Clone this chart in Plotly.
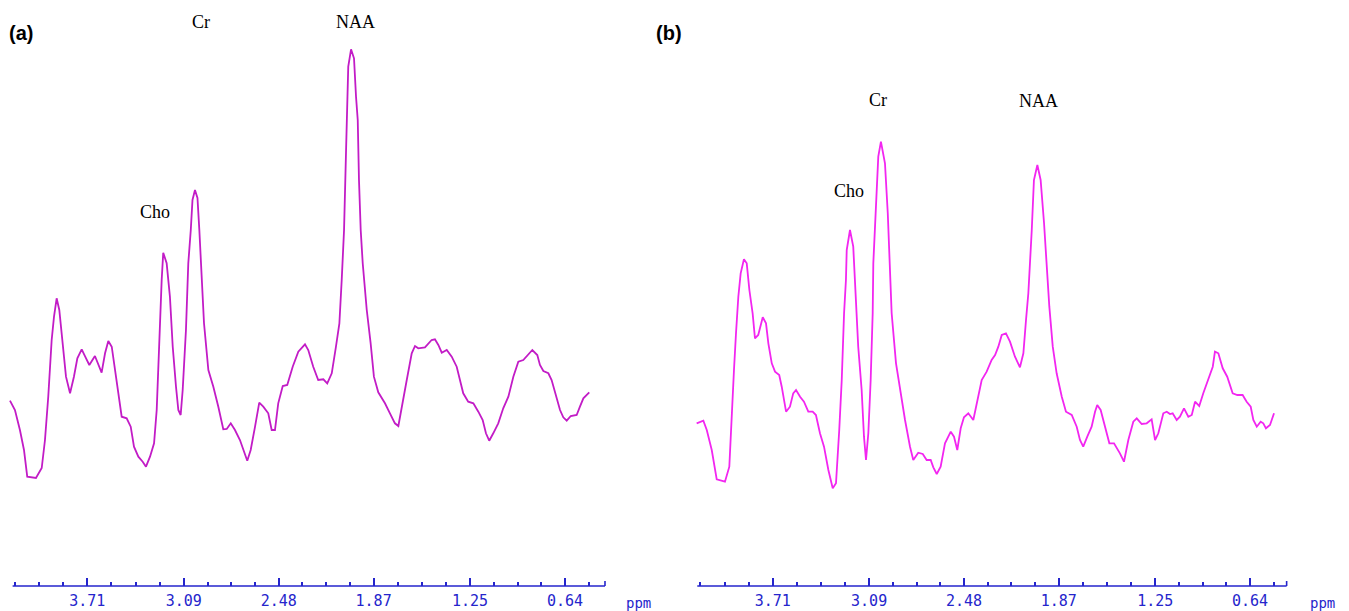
import plotly.graph_objects as go

W, H = 1349, 611

# ---------------- data (ppm, intensity in arbitrary units) ----------------
ppm_a = [4.207, 4.175, 4.143, 4.117, 4.096, 4.067, 4.040, 4.003, 3.982, 3.961,
         3.939, 3.924, 3.907, 3.890, 3.868, 3.847, 3.821, 3.796, 3.774, 3.746,
         3.718, 3.697, 3.661, 3.639, 3.618, 3.596, 3.575, 3.553, 3.532, 3.504,
         3.489, 3.457, 3.431, 3.410, 3.382, 3.354, 3.333, 3.307, 3.281, 3.264,
         3.247, 3.232, 3.222, 3.200, 3.179, 3.161, 3.140, 3.125, 3.110, 3.097,
         3.076, 3.061, 3.045, 3.034, 3.018, 3.002, 2.990, 2.975, 2.960, 2.932,
         2.900, 2.868, 2.836, 2.814, 2.788, 2.761, 2.729, 2.682, 2.660, 2.632,
         2.605, 2.579, 2.547, 2.525, 2.504, 2.483, 2.454, 2.425, 2.390, 2.354,
         2.311, 2.290, 2.258, 2.226, 2.193, 2.168, 2.139, 2.112, 2.090, 2.075,
         2.060, 2.047, 2.036, 2.033, 2.015, 1.996, 1.983, 1.972, 1.964, 1.953,
         1.940, 1.914, 1.889, 1.868, 1.840, 1.797, 1.765, 1.733, 1.711, 1.690,
         1.657, 1.625, 1.604, 1.583, 1.540, 1.497, 1.476, 1.454, 1.432, 1.400,
         1.368, 1.336, 1.319, 1.294, 1.262, 1.229, 1.197, 1.169, 1.148, 1.127,
         1.101, 1.069, 1.037, 1.004, 0.972, 0.940, 0.908, 0.876, 0.850, 0.818,
         0.801, 0.779, 0.747, 0.726, 0.698, 0.672, 0.651, 0.629, 0.603, 0.565,
         0.544, 0.522, 0.484]
int_a = [185.3, 176, 156, 136, 109.3, 109, 108, 118, 146, 189.3,
         246, 269.3, 287.7, 276, 239.3, 209.3, 192.7, 209.3, 227.7, 236.7,
         227.7, 221, 230, 221, 213.3, 232.7, 245, 239.3, 216, 186,
         169.3, 167.7, 159.3, 139.3, 129.3, 124.3, 119.3, 129.3, 142.7, 176,
         256, 306, 333.3, 322.7, 289.3, 239.3, 199.3, 176, 171, 196,
         256, 322.7, 356, 386, 396, 388, 356, 312.7, 262.7, 216,
         199.3, 179.3, 156.7, 157, 162.7, 156, 146, 125.3, 136, 159.3,
         183.3, 179.3, 172.7, 156, 156, 182.7, 200, 201, 219.3, 234.3,
         241.7, 236, 219.3, 206, 206.7, 202.7, 212.7, 239.3, 262.7, 306,
         356, 436, 489.3, 519.3, 536.7, 527.7, 489.3, 466, 406, 356,
         322.7, 276, 242.7, 209.3, 193.7, 182.7, 172.7, 162.7, 160, 179.3,
         206, 232.7, 240, 237.7, 238.7, 246, 246.7, 241, 233.3, 236,
         229.3, 219.3, 209.3, 192.7, 184.3, 182.7, 174.3, 166, 152.7, 145.3,
         152.7, 162.7, 177.7, 189.3, 209.3, 224.3, 226, 231, 236, 231,
         221, 215, 212.7, 206, 191, 176, 168.7, 165.3, 170, 171,
         179.3, 187.7, 193.7]

ppm_b = [4.199, 4.156, 4.134, 4.102, 4.070, 4.038, 4.017, 3.989, 3.974, 3.959,
         3.946, 3.931, 3.916, 3.895, 3.877, 3.860, 3.839, 3.824, 3.803, 3.774,
         3.753, 3.738, 3.716, 3.695, 3.668, 3.652, 3.624, 3.599, 3.578, 3.560,
         3.534, 3.509, 3.481, 3.453, 3.432, 3.406, 3.380, 3.352, 3.324, 3.303,
         3.282, 3.266, 3.251, 3.239, 3.234, 3.213, 3.192, 3.181, 3.160, 3.138,
         3.123, 3.110, 3.095, 3.080, 3.067, 3.063, 3.046, 3.031, 3.014, 2.988,
         2.970, 2.951, 2.945, 2.917, 2.891, 2.859, 2.827, 2.806, 2.774, 2.745,
         2.720, 2.694, 2.677, 2.655, 2.630, 2.602, 2.565, 2.544, 2.523, 2.501,
         2.480, 2.452, 2.420, 2.398, 2.366, 2.334, 2.302, 2.280, 2.259, 2.237,
         2.210, 2.184, 2.152, 2.120, 2.098, 2.081, 2.066, 2.044, 2.030, 2.008,
         1.987, 1.965, 1.944, 1.931, 1.909, 1.884, 1.851, 1.824, 1.787, 1.755,
         1.734, 1.713, 1.687, 1.659, 1.637, 1.623, 1.601, 1.573, 1.545, 1.515,
         1.477, 1.451, 1.423, 1.391, 1.369, 1.337, 1.305, 1.273, 1.251, 1.230,
         1.198, 1.176, 1.155, 1.138, 1.112, 1.091, 1.065, 1.037, 1.015, 0.994,
         0.967, 0.941, 0.909, 0.880, 0.866, 0.844, 0.816, 0.787, 0.752, 0.722,
         0.688, 0.662, 0.636, 0.619, 0.597, 0.572, 0.555, 0.538, 0.512, 0.486]
int_b = [162.7, 165.3, 156, 136, 106.7, 105.3, 104.3, 119.3, 176, 216,
         252.7, 289.3, 312.7, 326.7, 322.7, 296, 272.7, 247.7, 251, 268.7,
         262.7, 242.7, 222.7, 214.3, 211, 199.3, 174.3, 179.3, 192.7, 196,
         189.3, 184.3, 174.3, 174.3, 171, 152.7, 139.3, 116, 97.7, 102.7,
         156, 206, 272.7, 306, 336, 356, 339.3, 299.3, 239.3, 196,
         149.3, 126, 152.7, 206, 272.7, 322.7, 389.3, 429.3, 444.3, 422.7,
         372.7, 306, 272.7, 222.7, 196, 166, 139.3, 126, 133.3, 132,
         126, 126, 118.7, 112, 119.3, 142.7, 154.3, 149.3, 136, 157.7,
         168.7, 172.7, 166, 182.7, 206, 214.3, 226, 231, 239.3, 251,
         252.7, 244.3, 229.3, 218.7, 232.7, 266, 292.7, 356, 406, 421,
         406, 362.7, 306, 279.3, 239.3, 212.7, 189.3, 174.3, 171, 159.3,
         146, 139.3, 149.3, 159.3, 174.3, 181, 176, 159.3, 142.7, 142.7,
         132.7, 124.3, 146, 164.3, 167.7, 162, 162.7, 166.7, 146, 152.7,
         172.7, 174.3, 172, 172.7, 166, 169.3, 177.7, 169.3, 171, 184.3,
         180, 192.7, 206, 219.3, 234.3, 232.7, 217.7, 209.3, 192.7, 191,
         191, 184.3, 179.3, 166, 159.3, 164.3, 162.7, 157.7, 161, 172.7]

tick_vals = [3.71, 3.09, 2.48, 1.87, 1.25, 0.64]
tick_text = ["3.71", "3.09", "2.48", "1.87", "1.25", "0.64"]
peak_names = ["Cho", "Cr", "NAA"]
panel_names = ["(a)", "(b)"]

# ---------------- style ----------------
AXIS_BLUE = "#2525cc"
COL_A = "#c21cc6"
COL_B = "#f226f0"

# minor ticks: quarters between major ticks, plus 3 before and 1 after
step = 0.155
minor = []
for k in (3, 2, 1):
    minor.append(round(tick_vals[0] + k * step, 3))
for i in range(len(tick_vals) - 1):
    a, b = tick_vals[i], tick_vals[i + 1]
    for q in (1, 2, 3):
        minor.append(round(a + (b - a) * q / 4, 4))
minor.append(round(tick_vals[-1] - step, 3))

# axis pixel geometry (x pixel = x0 + (3.71 - ppm) * scale)
AXIS_Y = 586
range_a = [4.2711, 4.2711 - 674.5 / 155.6]
range_b = [3.71 + (772.7 - 674.5) / 155.5, 3.71 - (1349 - 772.7) / 155.5]
line_a = [4.19, 0.383]
line_b = [4.195, 0.405]

fig = go.Figure()
fig.add_trace(go.Scatter(x=ppm_a, y=int_a, mode="lines", xaxis="x", yaxis="y",
                         line=dict(color=COL_A, width=1.8), showlegend=False,
                         hoverinfo="skip"))
fig.add_trace(go.Scatter(x=ppm_b, y=int_b, mode="lines", xaxis="x2", yaxis="y2",
                         line=dict(color=COL_B, width=1.8), showlegend=False,
                         hoverinfo="skip"))

ydom = [1 - AXIS_Y / H, 1]
xcommon = dict(
    tickmode="array", tickvals=tick_vals, ticktext=tick_text,
    ticks="inside", ticklen=8, tickwidth=1.6, tickcolor=AXIS_BLUE,
    showline=False, showgrid=False, zeroline=False,
    tickfont=dict(family="DejaVu Sans Mono", size=15, color=AXIS_BLUE),
    ticklabelstandoff=4,
    minor=dict(tickmode="array", tickvals=minor, ticks="inside", ticklen=4,
               tickwidth=1.6, tickcolor=AXIS_BLUE, showgrid=False),
)
fig.update_layout(
    width=W, height=H, margin=dict(l=0, r=0, t=0, b=0),
    paper_bgcolor="white", plot_bgcolor="white",
    xaxis=dict(domain=[0, 0.5], range=range_a, anchor="y", **xcommon),
    xaxis2=dict(domain=[0.5, 1], range=range_b, anchor="y2", **xcommon),
    yaxis=dict(domain=ydom, range=[0, AXIS_Y], visible=False, anchor="x"),
    yaxis2=dict(domain=ydom, range=[0, AXIS_Y], visible=False, anchor="x2"),
)

ypaper = 1 - AXIS_Y / H
shapes = []
for xr, (x0, x1) in (("x", line_a), ("x2", line_b)):
    shapes.append(dict(type="line", xref=xr, yref="paper", x0=x0, x1=x1,
                       y0=ypaper, y1=ypaper,
                       line=dict(color=AXIS_BLUE, width=1.6)))
    shapes.append(dict(type="line", xref=xr, yref="paper", x0=x1, x1=x1,
                       y0=ypaper, y1=ypaper + 5 / H,
                       line=dict(color=AXIS_BLUE, width=1.6)))
fig.update_layout(shapes=shapes)


def px(x, y):
    return x / W, 1 - y / H


annots = []
# panel labels
for name, (x, y) in zip(panel_names, [(21, 33), (669, 33)]):
    ax, ay = px(x, y)
    annots.append(dict(x=ax, y=ay, xref="paper", yref="paper", text="<b>%s</b>" % name,
                       showarrow=False, xanchor="center", yanchor="middle",
                       font=dict(family="Liberation Sans", size=20, color="black")))
# ppm unit labels
for x in (638, 1322):
    ax, ay = px(x, 603)
    annots.append(dict(x=ax, y=ay, xref="paper", yref="paper", text="ppm",
                       showarrow=False, xanchor="center", yanchor="middle",
                       font=dict(family="DejaVu Sans Mono", size=14, color=AXIS_BLUE)))
# peak labels
peak_pos = {
    "a": [(155, 212), (200.7, 22), (355.3, 22)],
    "b": [(849.3, 191), (878.3, 100), (1038.3, 101)],
}
for key in ("a", "b"):
    for name, (x, y) in zip(peak_names, peak_pos[key]):
        ax, ay = px(x, y)
        annots.append(dict(x=ax, y=ay, xref="paper", yref="paper", text=name,
                           showarrow=False, xanchor="center", yanchor="middle",
                           font=dict(family="Liberation Serif", size=18, color="black")))
fig.update_layout(annotations=annots)

fig.write_html(
    "out.html",
    config={"displayModeBar": False},
    post_script="document.body.style.margin='0';document.body.style.overflow='hidden';",
)
